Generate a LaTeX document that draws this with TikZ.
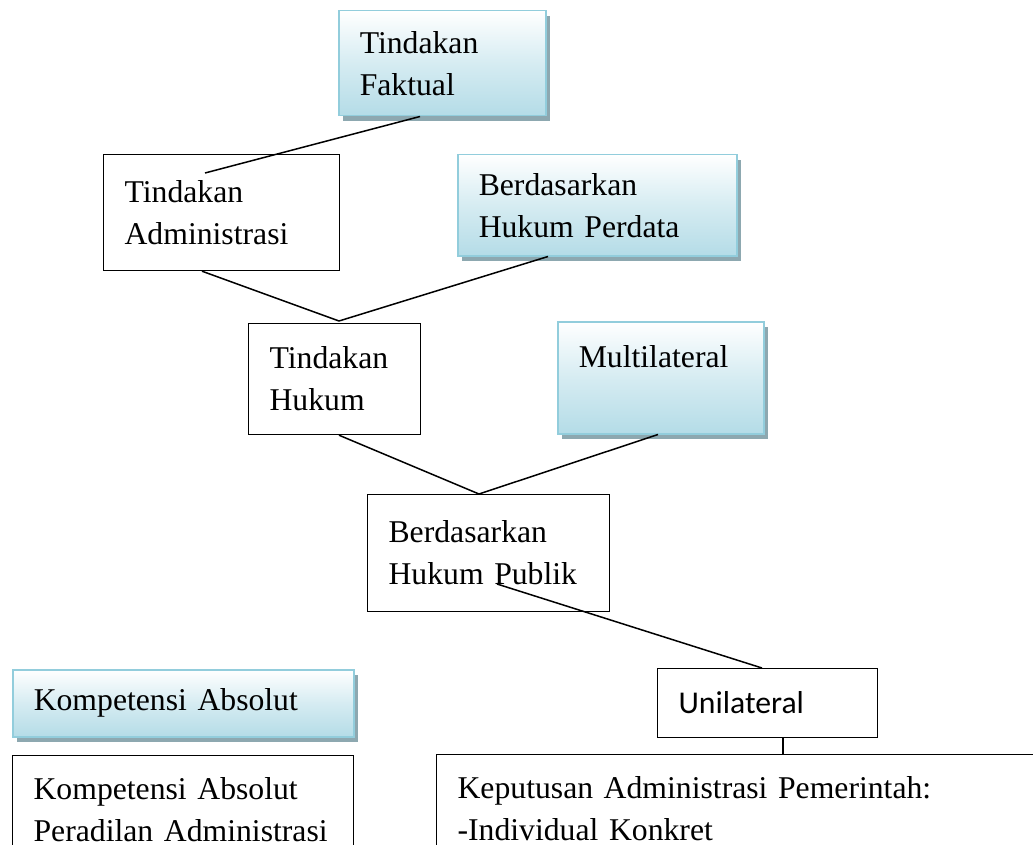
\documentclass[tikz,border=0pt]{standalone}
\usepackage{fontspec}
\setmainfont{Liberation Serif}
\newfontfamily\calib{Carlito}
\usepackage{tikz}
\usetikzlibrary{positioning, shadows}
\definecolor{edgeblue}{RGB}{146,205,220}
\definecolor{fillblue}{RGB}{180,220,231}
\definecolor{shadowgrey}{RGB}{141,168,176}
\newcommand{\tnr}{\fontsize{31.7}{42}\selectfont}
\tikzstyle{plain} = [rectangle, draw=black, line width=1.2pt, fill=white, align=left, anchor=north west, inner xsep=21pt, inner ysep=0pt, font=\tnr]
\tikzstyle{shaded} = [rectangle, draw=edgeblue, line width=1.5pt, top color=white, bottom color=fillblue, middle color=fillblue!55, drop shadow={shadow xshift=4pt, shadow yshift=-5pt, fill=shadowgrey, opacity=1}, align=left, anchor=north west, inner xsep=21pt, inner ysep=0pt, font=\tnr]
\tikzstyle{link} = [line width=1.5pt, black]

\begin{document}
\begin{tikzpicture}[x=1pt, y=-1pt]
        \clip (0,0) rectangle (1033,845);
        \node (fak) [shaded, text width=165pt, minimum height=105pt] at (338,10) {Tindakan\\Faktual};
        \node (ta) [plain, text width=194pt, minimum height=116pt] at (103,154) {Tindakan\\Administrasi};
        \node (per) [shaded, text width=237pt, minimum height=101pt] at (457,154) {Berdasarkan\\Hukum Perdata};
        \node (th) [plain, text width=130pt, minimum height=111pt] at (248,323) {Tindakan\\Hukum};
        \node (mul) [shaded, text width=164pt, minimum height=112pt] at (557,321) {Multilateral\\\mbox{}};
        \node (bhp) [plain, text width=200pt, minimum height=117pt] at (367,494) {Berdasarkan\\Hukum Publik};
        \node (kom) [shaded, text width=299pt, minimum height=67pt] at (12,669) {Kompetensi Absolut};
        \node (uni) [plain, text width=178pt, minimum height=69pt, font=\calib\tnr] at (657,668) {Unilateral};
        \node (kpa) [plain, text width=299pt, inner ysep=22pt] at (12,755) {Kompetensi Absolut\\Peradilan Administrasi};
        \node (kep) [plain, text width=660pt, inner ysep=22pt] at (436,754) {Keputusan Administrasi Pemerintah:\\-Individual Konkret};

        % connectors
        \draw [link] ([xshift=102pt,yshift=-19pt]ta.north west) -- ([xshift=82pt]fak.south west);
        \draw [link] ([xshift=99pt]ta.south west) -- ([xshift=91pt,yshift=2pt]th.north west);
        \draw [link] ([xshift=91pt]per.south west) -- ([xshift=91pt,yshift=2pt]th.north west);
        \draw [link] ([xshift=91pt]th.south west) -- ([xshift=112pt]bhp.north west);
        \draw [link] ([xshift=101pt]mul.south west) -- ([xshift=112pt]bhp.north west);
        \draw [link] ([xshift=130pt,yshift=-90pt]bhp.north west) -- ([xshift=105pt]uni.north west);
        \draw [link] ([xshift=126pt]uni.south west) -- ([xshift=347pt]kep.north west);
    \end{tikzpicture}
\end{document}
